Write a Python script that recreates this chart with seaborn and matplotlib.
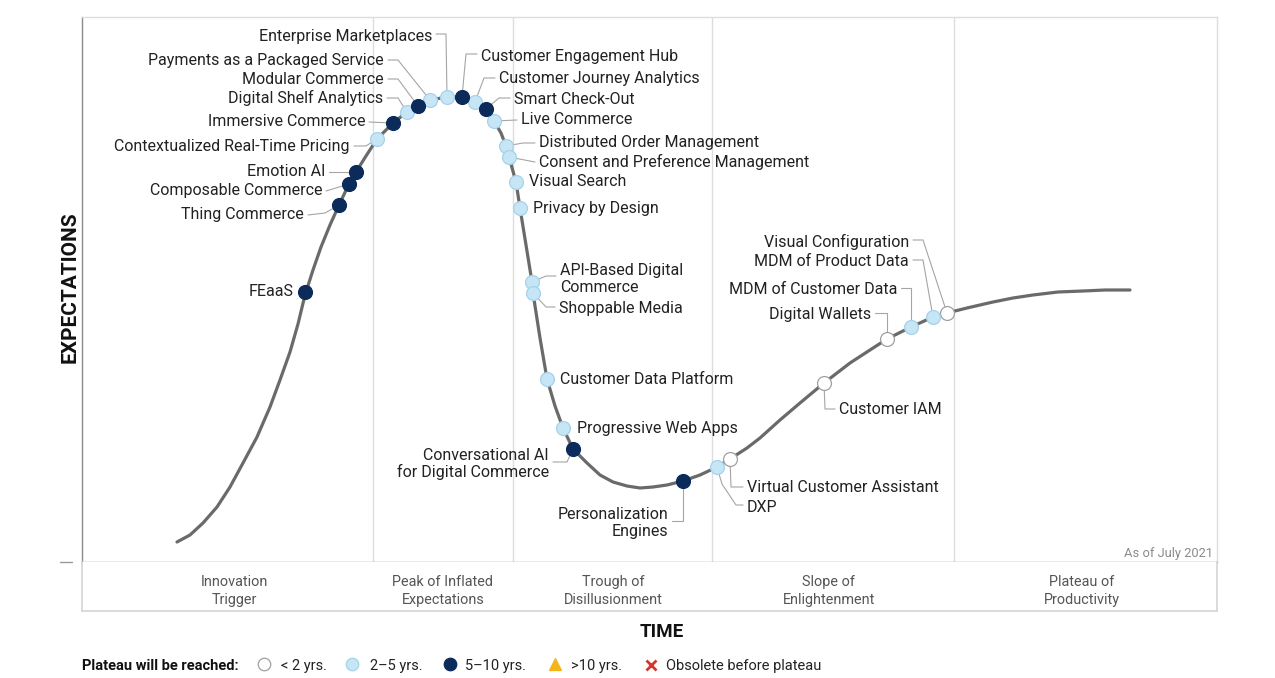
import numpy as np
import pandas as pd
import matplotlib
matplotlib.use("Agg")
import matplotlib.pyplot as plt
import seaborn as sns

# ---------------- data ----------------
# hype curve (time, expectations)
curve_time = [177, 190, 203, 217, 230, 243, 257, 270, 280, 290, 298, 305, 313, 321, 330, 339,
              349, 356, 366, 377, 393, 407, 418, 430, 447, 462, 475, 486, 494, 501, 506, 509,
              516, 520, 526, 532, 533, 540, 547, 555, 563, 573, 587, 600, 613, 627, 640, 653,
              667, 683, 700, 717, 730, 747, 760, 780, 800, 824, 850, 870, 887, 911, 933, 947,
              967, 993, 1013, 1033, 1058, 1083, 1105, 1130]
curve_expect = [20, 27, 39, 55, 75, 99, 125, 155, 182, 210, 238, 267, 292, 315, 337, 357,
                378, 390, 406, 423, 439, 450, 456, 462, 465, 465, 460, 453, 441, 429, 416, 405,
                380, 354, 317, 280, 269, 224, 183, 156, 134, 113, 99, 87, 80, 76, 74, 75,
                77, 81, 87, 95, 103, 114, 124, 142, 159, 179, 199, 212, 223, 235, 245, 249,
                254, 260, 264, 267, 270, 271, 272, 272]

tech_names = ["FEaaS", "Thing Commerce", "Composable Commerce", "Emotion AI",
              "Contextualized Real-Time Pricing", "Immersive Commerce", "Digital Shelf Analytics",
              "Modular Commerce", "Payments as a Packaged Service", "Enterprise Marketplaces",
              "Customer Engagement Hub", "Customer Journey Analytics", "Smart Check-Out",
              "Live Commerce", "Distributed Order Management", "Consent and Preference Management",
              "Visual Search", "Privacy by Design", "API-Based Digital\nCommerce", "Shoppable Media",
              "Customer Data Platform", "Progressive Web Apps",
              "Conversational AI\nfor Digital Commerce", "Personalization\nEngines", "DXP",
              "Virtual Customer Assistant", "Customer IAM", "Digital Wallets",
              "MDM of Customer Data", "MDM of Product Data", "Visual Configuration"]
tech_time = [305, 339, 349, 356, 377, 393, 407, 418, 430, 447, 462, 475, 486, 494, 506, 509,
             516, 520, 532, 533, 547, 563, 573, 683, 717, 730, 824, 887, 911, 933, 947]
tech_expect = [270, 357, 378, 390, 423, 439, 450, 456, 462, 465, 465, 460, 453, 441, 416, 405,
               380, 354, 280, 269, 183, 134, 113, 81, 95, 103, 179, 223, 235, 245, 249]
tech_plateau = ["5-10", "5-10", "5-10", "5-10", "2-5", "5-10", "2-5", "5-10", "2-5", "2-5",
                "5-10", "2-5", "5-10", "2-5", "2-5", "2-5", "2-5", "2-5", "2-5", "2-5",
                "2-5", "2-5", "5-10", "5-10", "2-5", "<2", "<2", "<2", "2-5", "2-5", "<2"]

phase_names = ["Innovation\nTrigger", "Peak of Inflated\nExpectations", "Trough of\nDisillusionment",
               "Slope of\nEnlightenment", "Plateau of\nProductivity"]
phase_bounds = [373, 513, 712, 954]
legend_labels = ["< 2 yrs.", "2–5 yrs.", "5–10 yrs.", ">10 yrs.", "Obsolete before plateau"]

# ---------------- layout (pixel positions of labels / leader elbows) ----------------
label_layout = {
    "FEaaS": (293, 292, "right", []),
    "Thing Commerce": (304, 215, "right", [(308, 215), (325, 213)]),
    "Composable Commerce": (322, 191, "right", [(326, 191)]),
    "Emotion AI": (325, 172, "right", [(329, 172)]),
    "Contextualized Real-Time Pricing": (350, 146, "right", [(354, 146), (366, 146)]),
    "Immersive Commerce": (365, 122, "right", [(369, 122)]),
    "Digital Shelf Analytics": (383, 98, "right", [(387, 98), (398, 98)]),
    "Modular Commerce": (384, 79, "right", [(388, 79), (398, 79)]),
    "Payments as a Packaged Service": (384, 60, "right", [(388, 60), (398, 60)]),
    "Enterprise Marketplaces": (432, 36, "right", [(436, 34), (446, 34)]),
    "Customer Engagement Hub": (481, 56, "left", [(477, 54), (466, 54)]),
    "Customer Journey Analytics": (499, 79, "left", [(495, 78), (484, 78)]),
    "Smart Check-Out": (514, 99, "left", [(510, 98), (499, 98)]),
    "Live Commerce": (521, 120, "left", [(517, 120)]),
    "Distributed Order Management": (539, 143, "left", [(535, 143), (523, 143)]),
    "Consent and Preference Management": (539, 162, "left", [(535, 162)]),
    "Visual Search": (529, 182, "left", []),
    "Privacy by Design": (533, 209, "left", []),
    "API-Based Digital\nCommerce": (560, 279, "left", [(556, 276), (546, 276)]),
    "Shoppable Media": (559, 308, "left", [(555, 307), (546, 307)]),
    "Customer Data Platform": (560, 380, "left", []),
    "Progressive Web Apps": (577, 428, "left", []),
    "Conversational AI\nfor Digital Commerce": (549, 464, "right", [(553, 462), (567, 462)]),
    "Personalization\nEngines": (668, 523, "right", [(672, 521), (683, 521)]),
    "DXP": (747, 507, "left", [(743, 505), (736, 505), (722, 484)]),
    "Virtual Customer Assistant": (747, 488, "left", [(743, 487), (731, 487)]),
    "Customer IAM": (839, 410, "left", [(835, 409), (825, 409)]),
    "Digital Wallets": (871, 315, "right", [(875, 313), (887, 313)]),
    "MDM of Customer Data": (897, 290, "right", [(901, 288), (911, 288)]),
    "MDM of Product Data": (909, 262, "right", [(913, 260), (923, 260)]),
    "Visual Configuration": (909, 242, "right", [(913, 240), (923, 240)]),
}

W, H = 1275, 678
X0, X1, YT, YB = 82, 1217, 17, 562   # plot area in pixels


def e(py):
    return YB - py


sns.set_theme(style="white")
plt.rcParams["font.family"] = ["Roboto", "DejaVu Sans"]

fig = plt.figure(figsize=(W / 100, H / 100), dpi=100)
ax = fig.add_axes([X0 / W, (H - YB) / H, (X1 - X0) / W, (YB - YT) / H])
ax.set_xlim(X0, X1)
ax.set_ylim(0, YB - YT)
ax.set_xticks([])
ax.set_yticks([])
for s, c in [("left", "#8a8a8a"), ("bottom", "#9a9a9a"), ("top", "#dddddd"), ("right", "#dddddd")]:
    ax.spines[s].set_color(c)
    ax.spines[s].set_linewidth(1.0)
for b in phase_bounds:
    ax.axvline(b, color="#dddddd", lw=1, zorder=0)

# curve
sns.lineplot(x=curve_time, y=curve_expect, sort=False, ax=ax, color="#6a6a6a", lw=2.3,
             zorder=2, estimator=None, solid_joinstyle="round", solid_capstyle="round")

df = pd.DataFrame({"name": tech_names, "time": tech_time, "expect": tech_expect,
                   "plateau": tech_plateau})
styles = {"<2": ("#ffffff", "#a0a0a0"), "2-5": ("#c6e5f5", "#a6d2ea"),
          "5-10": ("#0b2b5b", "#0b2b5b")}
for cat, (fc, ec) in styles.items():
    sub = df[df.plateau == cat]
    sns.scatterplot(data=sub, x="time", y="expect", ax=ax, color=fc, edgecolor=ec,
                    linewidth=0.9, s=100, zorder=4, legend=False)
ax.set_xlabel("")
ax.set_ylabel("")

# labels and leader lines
for _, r in df.iterrows():
    tx, ty, ha, pts = label_layout[r["name"]]
    ax.text(tx, e(ty), r["name"], ha=ha, va="center", fontsize=11.5, color="#222222",
            linespacing=1.1, zorder=5)
    if pts:
        xs = [p[0] for p in pts] + [r["time"]]
        ys = [e(p[1]) for p in pts] + [r["expect"]]
        ax.plot(xs, ys, color="#a5a5a5", lw=0.8, zorder=3)

ax.text(1213, e(557), "As of July 2021", ha="right", va="baseline", fontsize=9.3, color="#8a8a8a")

# phase band
bax = fig.add_axes([X0 / W, (H - 611) / H, (X1 - X0) / W, (611 - YB) / H])
bax.set_xlim(X0, X1)
bax.set_ylim(611, YB)
bax.set_xticks([])
bax.set_yticks([])
for s in bax.spines.values():
    s.set_color("#d6d6d6")
bax.spines["top"].set_visible(False)
phase_centers = [234, 443, 613, 829, 1082]
for cx, nm in zip(phase_centers, phase_names):
    bax.text(cx, 591, nm, ha="center", va="center", fontsize=10.4, color="#555555",
             linespacing=1.32)

# overlay for titles & legend
oax = fig.add_axes([0, 0, 1, 1], facecolor="none")
oax.set_xlim(0, W)
oax.set_ylim(H, 0)
oax.axis("off")
oax.plot([60, 72], [562, 562], color="#9a9a9a", lw=1)
oax.text(70, 287, "EXPECTATIONS", rotation=90, ha="center", va="center", fontsize=15,
         fontweight="bold", color="#111111")
oax.text(662, 632, "TIME", ha="center", va="center", fontsize=13.5, fontweight="bold",
         color="#111111")
ly = 666
oax.text(82, ly, "Plateau will be reached:", ha="left", va="center", fontsize=10.5,
         fontweight="bold", color="#111111")
leg_marks = [(264, "o", "#ffffff", "#a0a0a0"), (352, "o", "#c6e5f5", "#a6d2ea"),
             (450, "o", "#0b2b5b", "#0b2b5b"), (555, "^", "#f2b51c", "#f2b51c"),
             (651, "X", "#d9342b", "#d9342b")]
leg_text_x = [281, 370, 465, 571, 666]
for (mx, mk, fc, ec), tx, lab in zip(leg_marks, leg_text_x, legend_labels):
    if mk == "X":
        oax.plot(mx, ly - 1, marker="x", ms=7, mew=2, color=fc)
    else:
        oax.plot(mx, ly - 2, marker=mk, ms=9, mfc=fc, mec=ec, mew=0.9)
    oax.text(tx, ly, lab, ha="left", va="center", fontsize=10.5, color="#222222")

fig.savefig("out.png", dpi=100)
